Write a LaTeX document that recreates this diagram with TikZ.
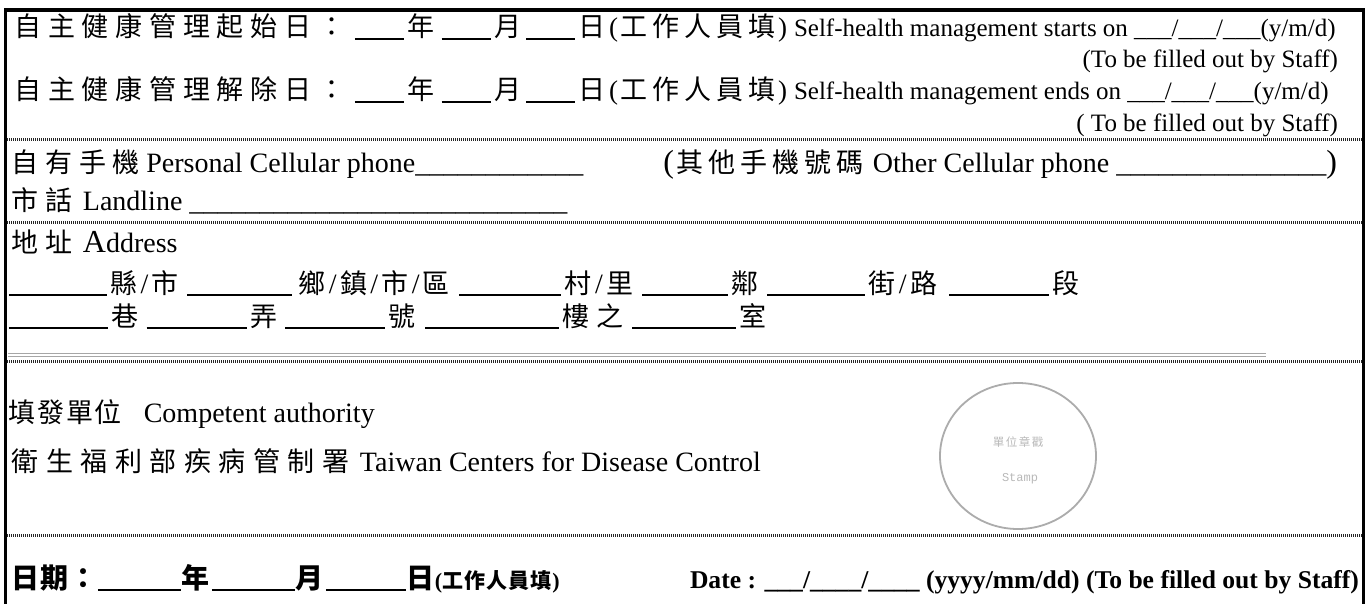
\documentclass[tikz,border=0pt]{standalone}
\usepackage{fontspec}
\usetikzlibrary{shapes.geometric}
\setmainfont{Liberation Serif}
\newfontfamily\cjk{Noto Sans CJK TC}
\newfontfamily\stampmono{Liberation Mono}
\newlength\cw
\makeatletter
\newcommand\cells[1]{\cells@a#1\relax}
\def\cells@a#1{\ifx#1\relax\else\makebox[\cw][c]{#1}\expandafter\cells@a\fi}
\makeatother
\newcommand\blank[2][1.8]{\rule[-3pt]{#2pt}{#1pt}}
\newcommand\fZa{\cjk\fontsize{27}{30}\selectfont}
\newcommand\fZb{\cjk\fontsize{28}{30}\selectfont}
\newcommand\fEa{\rmfamily\fontsize{25}{28}\selectfont}
\newcommand\fEb{\rmfamily\fontsize{28}{30}\selectfont}
\newcommand\fP{\rmfamily\fontsize{32}{34}\selectfont}
\tikzset{
  txt/.style={inner sep=0pt, outer sep=0pt, anchor=base west},
  txtr/.style={inner sep=0pt, outer sep=0pt, anchor=base east},
  sep/.style={line width=3pt, dash pattern=on 1pt off 1pt, black!85},
  frame/.style={line width=3.5pt},
  dbl/.style={gray!70, line width=1pt},
  stamp/.style={draw=gray!65, line width=1.8pt, ellipse, inner sep=0pt},
  stamptxt/.style={inner sep=0pt, text=gray!55},
}
\begin{document}
\begin{tikzpicture}[x=1pt,y=-1pt]
\useasboundingbox (0,0) rectangle (1371,604);
\fill[white] (0,0) rectangle (1371,604);
\draw[frame] (5.5,604) -- (5.5,10) -- (1363.5,10) -- (1363.5,604);

% rows 1-4
\node[txt] (r1zh) at (11,37) {\setlength\cw{33.75pt}\fZa\cells{自主健康管理起始日：}\hspace{6.5pt}\blank{49}\cells{年}\hspace{4pt}\blank{49}\cells{月}\hspace{2pt}\blank{49}\cells{日}\rmfamily(\setlength\cw{32pt}\cjk\cells{工作人員填}\rmfamily)};
\node[txt] (r1en) at (794,37) {\fEa Self-health management starts on \_\_\_/\_\_\_/\_\_\_(y/m/d)};
\node[txtr] (r2en) at (1338,68) {\fEa (To be filled out by Staff)};
\node[txt] (r3zh) at (11,100) {\setlength\cw{33.75pt}\fZa\cells{自主健康管理解除日：}\hspace{6.5pt}\blank{49}\cells{年}\hspace{4pt}\blank{49}\cells{月}\hspace{2pt}\blank{49}\cells{日}\rmfamily(\setlength\cw{32pt}\cjk\cells{工作人員填}\rmfamily)};
\node[txt] (r3en) at (794,100) {\fEa Self-health management ends on \_\_\_/\_\_\_/\_\_\_(y/m/d)};
\node[txtr] (r4en) at (1338,132) {\fEa ( To be filled out by Staff)};
\draw[sep] (7,140) -- (1362,140);

% rows 5-6
\node[txt] (r5a) at (8.5,173) {\setlength\cw{33.7pt}\fZa\cells{自有手機}\fEb\hspace{3pt}Personal Cellular phone\_\_\_\_\_\_\_\_\_\_\_\_};
\node[txtr] (r5b) at (1337,173) {\fP(\setlength\cw{32pt}\fZa\cells{其他手機號碼}\fEb\ Other Cellular phone \_\_\_\_\_\_\_\_\_\_\_\_\_\_\_\fP)};
\node[txt] (r6) at (8.5,211) {\setlength\cw{33.7pt}\fZa\cells{市話}\fEb\ Landline \_\_\_\_\_\_\_\_\_\_\_\_\_\_\_\_\_\_\_\_\_\_\_\_\_\_\_};
\draw[sep] (7,223) -- (1362,223);

% address
\node[txt] (r7) at (8.5,253) {\setlength\cw{33.7pt}\fZa\cells{地址}\fEb\ {\fP A}ddress};
\node[txt] (r8) at (9,293) {\setlength\cw{33.7pt}\fZa\blank{98}\cells{縣}\fEb/\fZa\cells{市}\hspace{5pt}\blank{105}\hspace{3pt}\cells{鄉}\fEb/\fZa\cells{鎮}\fEb/\fZa\cells{市}\fEb/\fZa\cells{區}\hspace{6pt}\blank{102}\cells{村}\fEb/\fZa\cells{里}\hspace{6pt}\blank{86}\cells{鄰}\hspace{5pt}\blank{98}\cells{街}\fEb/\fZa\cells{路}\hspace{9pt}\blank{100}\cells{段}};
\node[txt] (r9) at (9,326) {\setlength\cw{33.7pt}\fZa\blank{99}\cells{巷}\hspace{5pt}\blank{100}\cells{弄}\hspace{5pt}\blank{100}\cells{號}\hspace{6pt}\blank{134}\cells{樓之}\hspace{6pt}\blank{104}\cells{室}};
\draw[dbl] (8,353) -- (1266,353);
\draw[dbl] (8,356) -- (1266,356);
\draw[sep] (7,361) -- (1362,361);

% authority
\node[txt] (r10) at (8,422) {\setlength\cw{28.7pt}\fZa\cells{填發單位}\fEb\hspace{21pt}Competent authority};
\node[txt] (r11) at (8,471) {\setlength\cw{34.5pt}\fZa\cells{衛生福利部疾病管制署}\fEb\hspace{7pt}Taiwan Centers for Disease Control};
\node[stamp, minimum width=156pt, minimum height=146pt] (stampc) at (1018,456) {};
\node[stamptxt] (stampzh) at (1018,442) {\setlength\cw{13pt}\cjk\fontsize{11.5}{12}\selectfont\cells{單位章戳}};
\node[stamptxt] (stampen) at (1020,479) {\stampmono\fontsize{12}{13}\selectfont Stamp};
\draw[sep] (7,535) -- (1362,535);

% bottom
\node[txt] (r12zh) at (11,588) {\setlength\cw{29pt}\fZb\bfseries\cells{日期：}\blank[2.5]{83}\cells{年}\hspace{2pt}\blank[2.5]{83}\cells{月}\hspace{2pt}\blank[2.5]{80}\cells{日}\rmfamily\bfseries\fontsize{22}{24}\selectfont(\setlength\cw{22pt}\cjk\bfseries\fontsize{21}{24}\selectfont\cells{工作人員填}\rmfamily\bfseries\fontsize{22}{24}\selectfont)};
\node[txt] (r12en) at (690,588) {\bfseries\fontsize{25.6}{28}\selectfont Date : \_\_\_/\_\_\_\_/\_\_\_\_ (yyyy/mm/dd) (To be filled out by Staff)};
\end{tikzpicture}
\end{document}
